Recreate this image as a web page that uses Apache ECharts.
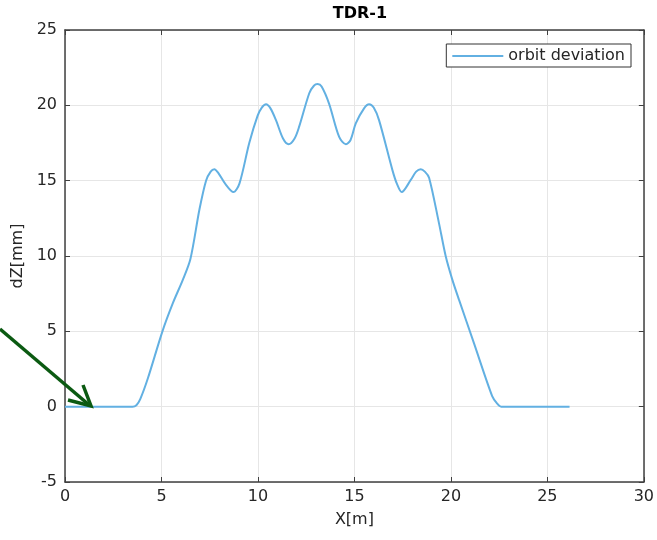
<!DOCTYPE html>
<html><head><meta charset="utf-8">
<script src="https://cdn.jsdelivr.net/npm/echarts@6/dist/echarts.min.js"></script>
<style>html,body{margin:0;padding:0;background:#fff}#c{width:657px;height:540px}</style>
</head><body><div id="c"></div>
<script>
const titleText = 'TDR-1';
const seriesName = 'orbit deviation';
const xValues = [0, 1, 2, 3, 3.5, 3.7, 3.9, 4.3, 5.05, 5.6, 6.1, 6.5, 6.97, 7.31, 7.55, 7.74, 7.95, 8.3, 8.73, 9.04, 9.55, 9.98, 10.2, 10.42, 10.65, 10.94, 11.3, 11.59, 11.9, 12.14, 12.66, 12.9, 13.09, 13.3, 13.69, 14.21, 14.56, 14.8, 15.07, 15.5, 15.76, 16.0, 16.28, 16.97, 17.2, 17.45, 17.92, 18.2, 18.44, 18.65, 18.87, 19.38, 19.73, 20.07, 20.42, 21.2, 22.14, 22.4, 22.6, 23, 24, 25, 26.15];
const yValues = [0, 0, 0, 0, 0, 0.1, 0.5, 1.9, 5, 6.9, 8.4, 9.8, 13.1, 15.0, 15.6, 15.76, 15.5, 14.8, 14.24, 14.8, 17.5, 19.3, 19.85, 20.07, 19.8, 19.0, 17.8, 17.42, 17.8, 18.6, 20.8, 21.3, 21.41, 21.25, 20.1, 17.9, 17.42, 17.7, 18.8, 19.8, 20.07, 19.85, 19.0, 15.7, 14.8, 14.24, 15.05, 15.6, 15.76, 15.6, 15.2, 12.2, 10.0, 8.45, 7.1, 4.2, 0.7, 0.2, 0, 0, 0, 0, 0];
const xTicks = [0, 5, 10, 15, 20, 25, 30];
const yTicks = [-5, 0, 5, 10, 15, 20, 25];

const data = xValues.map((x, i) => [x, yValues[i]]);
const font = 'DejaVu Sans';
const axisColor = '#404040';
const chart = echarts.init(document.getElementById('c'), null, {renderer: 'canvas'});
const common = {
  axisLine: {show: true, onZero: false, lineStyle: {color: axisColor, width: 1.5}},
  axisTick: {show: true, inside: true, length: 5, lineStyle: {color: axisColor}},
  splitLine: {show: false}
};
chart.setOption({
  animation: false,
  backgroundColor: '#fff',
  title: {text: titleText, left: 355, textAlign: 'center', top: 1,
    textStyle: {fontFamily: font, fontSize: 16, fontWeight: 'bold', color: '#000'}},
  legend: {right: 26, top: 44, orient: 'vertical', borderColor: '#333', borderWidth: 1,
    padding: [4, 6, 3, 6], itemWidth: 51, itemHeight: 12, itemGap: 5, backgroundColor: '#fff',
    icon: 'path://M0,5 L51,5 L51,7 L0,7 Z',
    textStyle: {fontFamily: font, fontSize: 16, color: '#262626'}, data: [seriesName]},
  grid: {left: 65, right: 12, top: 30, bottom: 58},
  xAxis: [
    Object.assign({type: 'value', min: xTicks[0], max: xTicks[xTicks.length - 1], interval: 5, position: 'bottom',
      name: 'X[m]', nameLocation: 'middle', nameGap: 30,
      nameTextStyle: {fontFamily: font, fontSize: 16, color: '#262626'},
      axisLabel: {fontFamily: font, fontSize: 16, color: '#262626', margin: 7}}, common,
      {splitLine: {show: true, lineStyle: {color: '#e6e6e6', width: 1}}}),
    Object.assign({type: 'value', min: xTicks[0], max: xTicks[xTicks.length - 1], interval: 5, position: 'top',
      axisLabel: {show: false}}, common)
  ],
  yAxis: [
    Object.assign({type: 'value', min: yTicks[0], max: yTicks[yTicks.length - 1], interval: 5, position: 'left',
      name: 'dZ[mm]', nameLocation: 'middle', nameGap: 38, nameRotate: 90,
      nameTextStyle: {fontFamily: font, fontSize: 16, color: '#262626'},
      axisLabel: {fontFamily: font, fontSize: 16, color: '#262626', margin: 8}}, common,
      {splitLine: {show: true, lineStyle: {color: '#e6e6e6', width: 1}}}),
    Object.assign({type: 'value', min: yTicks[0], max: yTicks[yTicks.length - 1], interval: 5, position: 'right',
      axisLabel: {show: false}}, common)
  ],
  series: [{
    name: seriesName, type: 'line', data: data, xAxisIndex: 0, yAxisIndex: 0,
    showSymbol: false, symbol: 'none', smooth: 0.3,
    lineStyle: {color: '#62b0e2', width: 2}, itemStyle: {color: '#62b0e2'}
  }],
  graphic: [
    {type: 'line', shape: {x1: 0, y1: 329, x2: 88, y2: 404}, z: 100,
      style: {stroke: '#0b5a12', lineWidth: 3.5}},
    {type: 'polyline', shape: {points: [[68, 400], [91, 406], [83, 385]]}, z: 100,
      style: {stroke: '#0b5a12', lineWidth: 3.5, fill: null, lineJoin: 'miter'}}
  ]
});
</script></body></html>
